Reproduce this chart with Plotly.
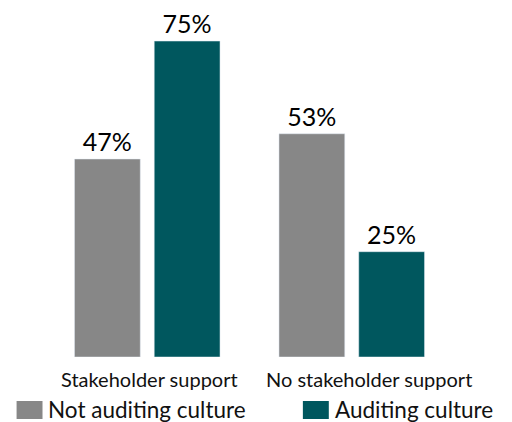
import plotly.graph_objects as go

categories = ["Stakeholder support", "No stakeholder support"]
not_auditing = [47, 53]
auditing = [75, 25]
series_names = ["Not auditing culture", "Auditing culture"]
series_colors = ["#878787", "#00575e"]

fig = go.Figure()
for name, vals, col in zip(series_names, [not_auditing, auditing], series_colors):
    fig.add_trace(go.Bar(
        x=categories, y=vals, name=name,
        marker=dict(color=col),
        text=[f"{v}%" for v in vals], textposition="outside",
        textfont=dict(size=25, color="#000000"), cliponaxis=False,
        showlegend=False,
    ))

# category labels (left-aligned as in the reference)
for cat in categories:
    fig.add_annotation(text=cat, x=cat, xref="x", yref="paper",
                       y=-(379 - 357) / 337, xanchor="left", yanchor="middle",
                       xshift=-88, showarrow=False,
                       font=dict(size=20, color="#111111"))

# legend drawn as swatches + labels in paper space
legend_x = [16, 303]
for (name, col, px) in zip(series_names, series_colors, legend_x):
    fig.add_shape(type="rect", xref="paper", yref="paper",
                  x0=(px - 44.5) / 410, x1=(px + 26 - 44.5) / 410,
                  y0=-(419 - 357) / 337, y1=-(401 - 357) / 337,
                  fillcolor=col, line=dict(width=0))
    fig.add_annotation(text=name, xref="paper", yref="paper",
                       x=(px + 30 - 44.5) / 410, y=-(409 - 357) / 337,
                       xanchor="left", yanchor="middle", showarrow=False,
                       font=dict(size=22.5, color="#111111"))

fig.update_layout(
    width=512, height=422,
    margin=dict(l=44.5, r=57.5, t=20, b=65),
    barmode="group", bargap=0.22, bargroupgap=0.175,
    plot_bgcolor="white", paper_bgcolor="white",
    font=dict(family="Lato", color="#111111"),
    xaxis=dict(showline=False, showgrid=False, ticks="", showticklabels=False,
               automargin=False, range=[-0.5, 1.5], autorange=False),
    yaxis=dict(range=[0, 80], visible=False),
    showlegend=False,
)
fig.write_html("out.html")
